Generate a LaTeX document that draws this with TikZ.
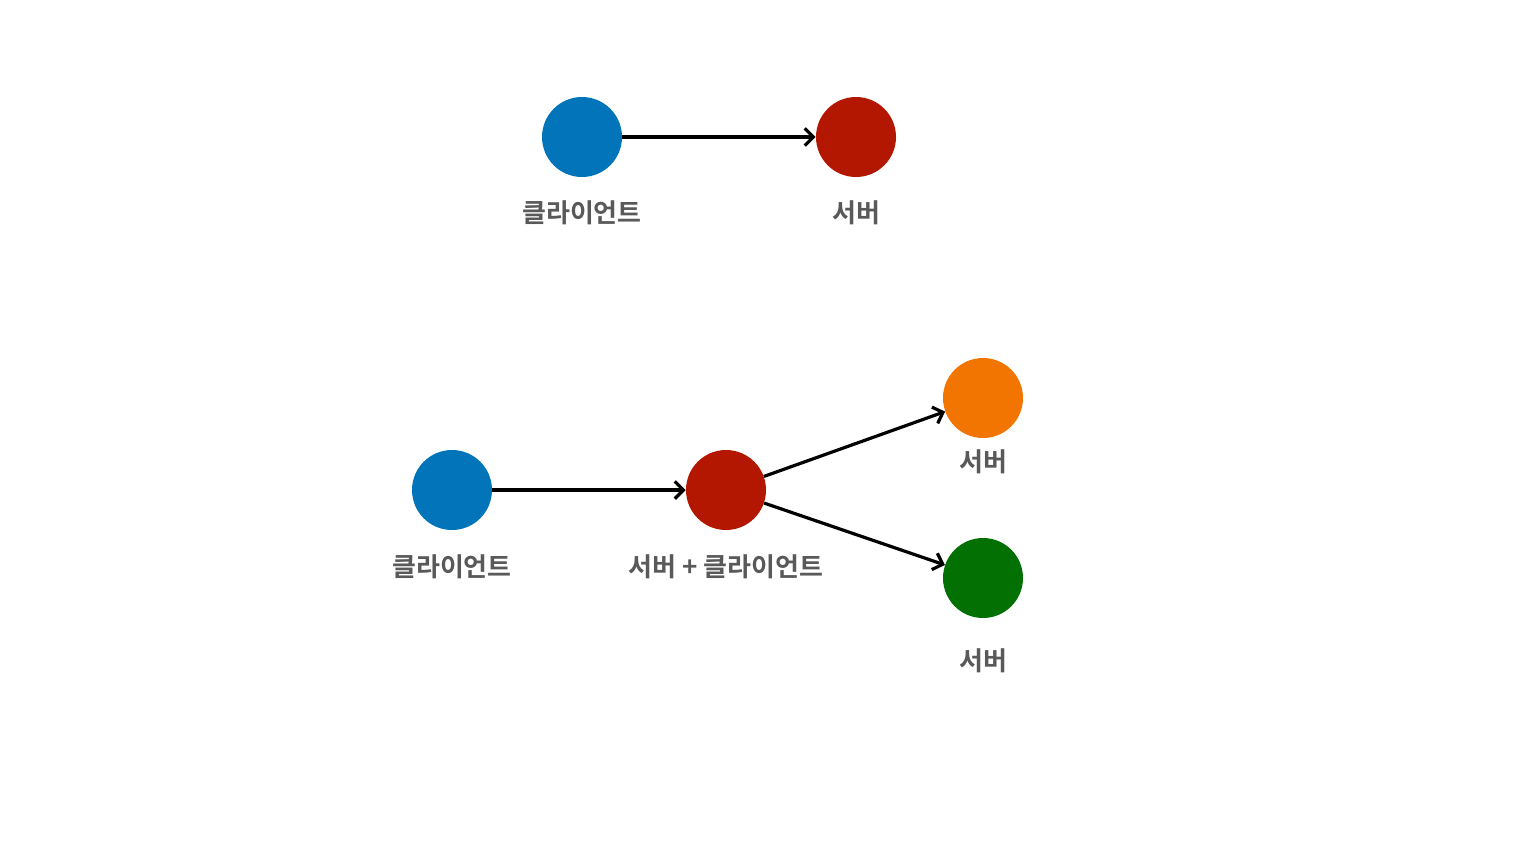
\documentclass[tikz,border=0pt]{standalone}
\usepackage{fontspec}
\newfontfamily\krfont{Noto Sans CJK KR}[BoldFont={* Bold}]
\usetikzlibrary{arrows.meta}
\definecolor{cblue}{HTML}{0174BA}
\definecolor{cred}{HTML}{B31701}
\definecolor{corange}{HTML}{F37501}
\definecolor{cgreen}{HTML}{027002}
\definecolor{ctext}{HTML}{595959}
\begin{document}
\begin{tikzpicture}[x=0.75pt,y=-0.75pt,
  dot/.style={circle,minimum size=60pt,inner sep=0pt,draw=none},
  lbl/.style={font=\krfont\bfseries\fontsize{19.5pt}{22pt}\selectfont,text=ctext,inner sep=0pt},
  conn/.style={line width=2.4pt,-{Straight Barb[length=6.5pt,width=13pt,line width=2.4pt]}}]
\useasboundingbox (0,0) rectangle (1530,856);
\node[dot,fill=cblue] (c1) at (582,137) {};
\node[dot,fill=cred] (s1) at (856,137) {};
\node[lbl] (lc1) at (582,213) {클라이언트};
\node[lbl] (ls1) at (856,213) {서버};
\draw[conn] (c1) -- (s1);
\node[dot,fill=cblue] (c2) at (452,490) {};
\node[dot,fill=cred] (m2) at (726,490) {};
\node[dot,fill=corange] (o2) at (983,398) {};
\node[dot,fill=cgreen] (g2) at (983,578) {};
\node[lbl] (lc2) at (452,567) {클라이언트};
\node[lbl] (lm2) at (726,567) {서버 + 클라이언트};
\node[lbl] (lo2) at (983,462) {서버};
\node[lbl] (lg2) at (983,661) {서버};
\draw[conn] (c2) -- (m2);
\draw[conn] (m2) -- (o2);
\draw[conn] (m2) -- (g2);
\end{tikzpicture}
\end{document}
